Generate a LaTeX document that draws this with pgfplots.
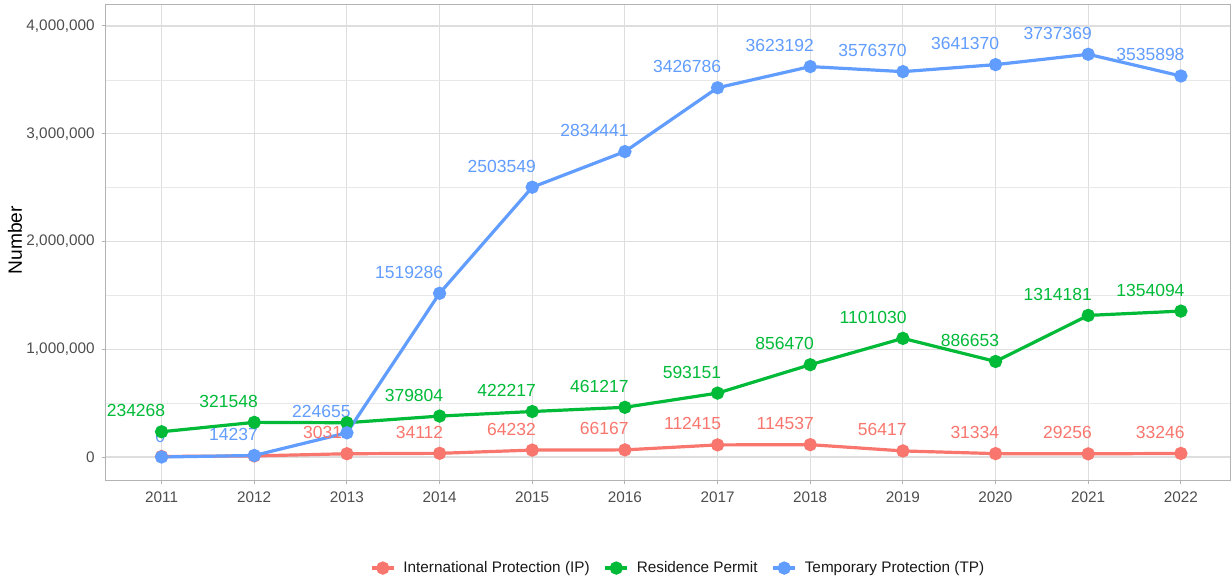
\documentclass[border=0pt]{standalone}
\usepackage{fontspec}
\setmainfont{Liberation Sans}
\usepackage{pgfplots}
\pgfplotsset{compat=1.18}
\usepackage{pgfplotstable}

\definecolor{ipcol}{HTML}{F8766D}
\definecolor{rpcol}{HTML}{00BA38}
\definecolor{tpcol}{HTML}{619CFF}
\definecolor{gridcol}{HTML}{DEDEDE}
\definecolor{framecol}{HTML}{B3B3B3}
\definecolor{tickcol}{HTML}{4D4D4D}

% International Protection (IP)
\pgfplotstableread{
year val lbl
2011 5000 {}
2012 10000 {}
2013 30311 30311
2014 34112 34112
2015 64232 64232
2016 66167 66167
2017 112415 112415
2018 114537 114537
2019 56417 56417
2020 31334 31334
2021 29256 29256
2022 33246 33246
}\tabIP

% Residence Permit
\pgfplotstableread{
year val lbl
2011 234268 234268
2012 321548 321548
2013 318000 {}
2014 379804 379804
2015 422217 422217
2016 461217 461217
2017 593151 593151
2018 856470 856470
2019 1101030 1101030
2020 886653 886653
2021 1314181 1314181
2022 1354094 1354094
}\tabRP

% Temporary Protection (TP)
\pgfplotstableread{
year val lbl
2011 0 0
2012 14237 14237
2013 224655 224655
2014 1519286 1519286
2015 2503549 2503549
2016 2834441 2834441
2017 3426786 3426786
2018 3623192 3623192
2019 3576370 3576370
2020 3641370 3641370
2021 3737369 3737369
2022 3535898 3535898
}\tabTP

\pgfplotsset{
  lbls/.style={draw=none, mark=none, forget plot,
    nodes near coords, point meta=explicit symbolic,
    every node near coord/.append style={anchor=base east, inner sep=0pt,
      xshift=2pt, yshift=7.5pt, font=\fontsize{8.75}{10}\selectfont, text=#1}},
  ser/.style={#1, line width=1.6pt, mark=*, mark size=2.5pt, mark options={solid, fill=#1}},
}

\begin{document}
\begin{tikzpicture}
\begin{axis}[
  name=ax,
  scale only axis,
  width=562pt, height=238pt,
  xmin=2010.4, xmax=2022.53,
  ymin=-213500, ymax=4204000,
  xtick={2011,...,2022},
  ytick={0,1000000,2000000,3000000,4000000},
  minor ytick={500000,1500000,2500000,3500000},
  grid=both,
  major grid style={gridcol, line width=0.6pt},
  minor grid style={gridcol!70, line width=0.35pt},
  axis line style={framecol, line width=0.5pt},
  tick align=outside,
  major tick length=2.2pt,
  minor tick length=0pt,
  tick style={framecol, line width=0.5pt},
  xtick pos=bottom, ytick pos=left,
  scaled y ticks=false,
  yticklabel style={/pgf/number format/.cd, fixed, 1000 sep={,}},
  xticklabel style={/pgf/number format/1000 sep={}},
  /pgf/number format/assume math mode=true,
  tick label style={font=\fontsize{7.65}{9}\selectfont, text=tickcol},
  ylabel={Number},
  ylabel style={font=\fontsize{9.6}{11}\selectfont, at={(axis description cs:-0.081,0.504)}, anchor=center},
  legend columns=-1,
  legend style={at={(axis description cs:0.51,-0.185)}, anchor=center, draw=none, fill=none,
    font=\fontsize{7.65}{9}\selectfont, text=black!90,
    /tikz/every odd column/.append style={column sep=2pt},
    /tikz/every even column/.append style={column sep=5pt}},
  legend image code/.code={\draw[#1, mark repeat=2, mark phase=2] plot coordinates {(0pt,0pt) (5.5pt,0pt) (11pt,0pt)};},
]
  % value labels
  \addplot[lbls=ipcol] table[x=year, y=val, meta=lbl] {\tabIP};
  \addplot[lbls=rpcol] table[x=year, y=val, meta=lbl] {\tabRP};
  \addplot[lbls=tpcol] table[x=year, y=val, meta=lbl] {\tabTP};

  % series
  \addplot[ser=ipcol] table[x=year, y=val] {\tabIP};
  \addlegendentry{International Protection (IP)}
  \addplot[ser=rpcol] table[x=year, y=val] {\tabRP};
  \addlegendentry{Residence Permit}
  \addplot[ser=tpcol] table[x=year, y=val] {\tabTP};
  \addlegendentry{Temporary Protection (TP)}
\end{axis}
\pgfresetboundingbox
\path[use as bounding box] ([xshift=-53pt,yshift=-51pt]ax.south west) rectangle ([xshift=1pt,yshift=2pt]ax.north east);
\end{tikzpicture}
\end{document}
